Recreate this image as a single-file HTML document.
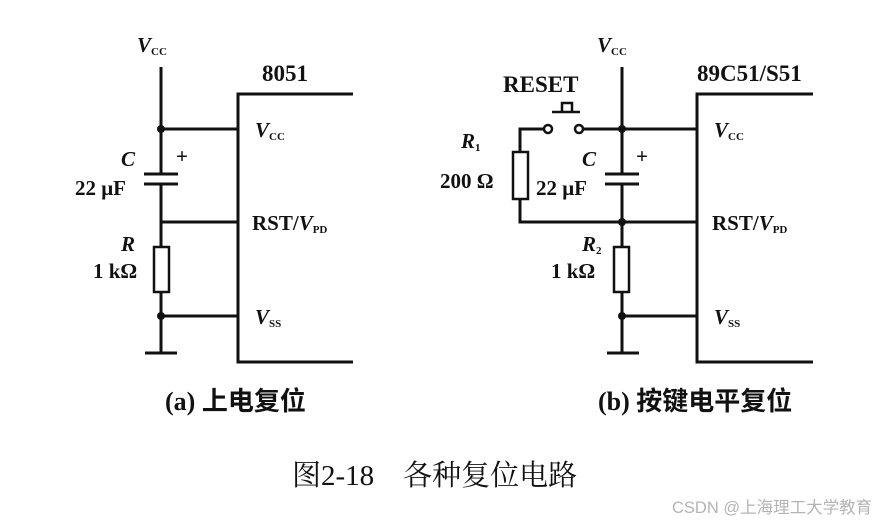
<!DOCTYPE html>
<html><head><meta charset="utf-8"><style>
html,body{margin:0;padding:0;background:#fff;}
svg{display:block;}
.t{font-family:"Liberation Serif","Noto Serif CJK SC",serif;font-weight:bold;fill:#111;font-size:21px;}
.i{font-style:italic;}
.s{font-size:11px;}
.cj{font-family:"Liberation Serif","Noto Sans CJK SC",sans-serif;font-weight:bold;fill:#111;font-size:26px;}
</style></head><body>
<svg width="886" height="522" viewBox="0 0 886 522" xmlns="http://www.w3.org/2000/svg">
<g stroke="#111" stroke-width="3" fill="none">
<line x1="161" y1="67" x2="161" y2="174"/>
<line x1="144" y1="174" x2="178" y2="174"/>
<line x1="144" y1="184" x2="178" y2="184"/>
<line x1="161" y1="184" x2="161" y2="247"/>
<line x1="161" y1="129" x2="238" y2="129"/>
<line x1="161" y1="222" x2="238" y2="222"/>
<rect x="154" y="247" width="15" height="45" stroke-width="2.5"/>
<line x1="161" y1="292" x2="161" y2="353"/>
<line x1="161" y1="316" x2="238" y2="316"/>
<line x1="145" y1="353" x2="177" y2="353"/>
<polyline points="353,94 238,94 238,362 353,362"/>
<line x1="622" y1="67" x2="622" y2="174"/>
<line x1="605" y1="174" x2="639" y2="174"/>
<line x1="605" y1="184" x2="639" y2="184"/>
<line x1="622" y1="184" x2="622" y2="247"/>
<line x1="583" y1="129" x2="697" y2="129"/>
<polyline points="544,129 520,129 520,152"/>
<rect x="513" y="152" width="15" height="47" stroke-width="2.5"/>
<polyline points="520,199 520,222 697,222"/>
<circle cx="548" cy="129" r="4" stroke-width="2.5"/>
<circle cx="579" cy="129" r="4" stroke-width="2.5"/>
<line x1="552" y1="112" x2="580" y2="112" stroke-width="2.5"/>
<polyline points="562,112 562,103 572,103 572,112" stroke-width="2.5"/>
<rect x="614" y="247" width="15" height="45" stroke-width="2.5"/>
<line x1="622" y1="292" x2="622" y2="353"/>
<line x1="622" y1="316" x2="697" y2="316"/>
<line x1="607" y1="353" x2="639" y2="353"/>
<polyline points="813,94 697,94 697,362 813,362"/>
</g>
<g fill="#111">
<circle cx="161" cy="129" r="4"/><circle cx="161" cy="316" r="4"/>
<circle cx="622" cy="129" r="4"/><circle cx="622" cy="222" r="4"/><circle cx="622" cy="316" r="4"/>
</g>
<text class="t" x="137" y="52"><tspan class="i">V</tspan><tspan class="s" dy="3">CC</tspan></text>
<text class="t" x="262" y="81" style="font-size:23px">8051</text>
<text class="t" x="255" y="137"><tspan class="i">V</tspan><tspan class="s" dy="3">CC</tspan></text>
<text class="t" x="252" y="230">RST/<tspan class="i">V</tspan><tspan class="s" dy="3">PD</tspan></text>
<text class="t" x="255" y="324"><tspan class="i">V</tspan><tspan class="s" dy="3">SS</tspan></text>
<text class="t i" x="121" y="166">C</text>
<text class="t" x="176" y="163">+</text>
<text class="t" x="75" y="195">22 μF</text>
<text class="t i" x="121" y="251">R</text>
<text class="t" x="93" y="278">1 kΩ</text>
<text class="cj" x="165" y="410">(a) 上电复位</text>
<text class="t" x="597" y="52"><tspan class="i">V</tspan><tspan class="s" dy="3">CC</tspan></text>
<text class="t" x="697" y="81" style="font-size:23px">89C51/S51</text>
<text class="t" x="503" y="92" style="font-size:23px">RESET</text>
<text class="t" x="714" y="137"><tspan class="i">V</tspan><tspan class="s" dy="3">CC</tspan></text>
<text class="t" x="712" y="230">RST/<tspan class="i">V</tspan><tspan class="s" dy="3">PD</tspan></text>
<text class="t" x="714" y="324"><tspan class="i">V</tspan><tspan class="s" dy="3">SS</tspan></text>
<text class="t" x="461" y="148"><tspan class="i">R</tspan><tspan class="s" dy="3">1</tspan></text>
<text class="t" x="440" y="188">200 Ω</text>
<text class="t i" x="582" y="166">C</text>
<text class="t" x="636" y="163">+</text>
<text class="t" x="536" y="195">22 μF</text>
<text class="t" x="582" y="251"><tspan class="i">R</tspan><tspan class="s" dy="3">2</tspan></text>
<text class="t" x="551" y="278">1 kΩ</text>
<text class="cj" x="598" y="410">(b) 按键电平复位</text>
<text x="292" y="485" style="font-family:'Liberation Serif','Noto Serif CJK SC',serif;font-size:29px;fill:#111">图2-18　各种复位电路</text>
<text x="672" y="513" style="font-family:'Liberation Sans','Noto Sans CJK SC',sans-serif;font-size:16.5px;fill:#b4b4b4">CSDN @上海理工大学教育</text>
</svg>
</body></html>
